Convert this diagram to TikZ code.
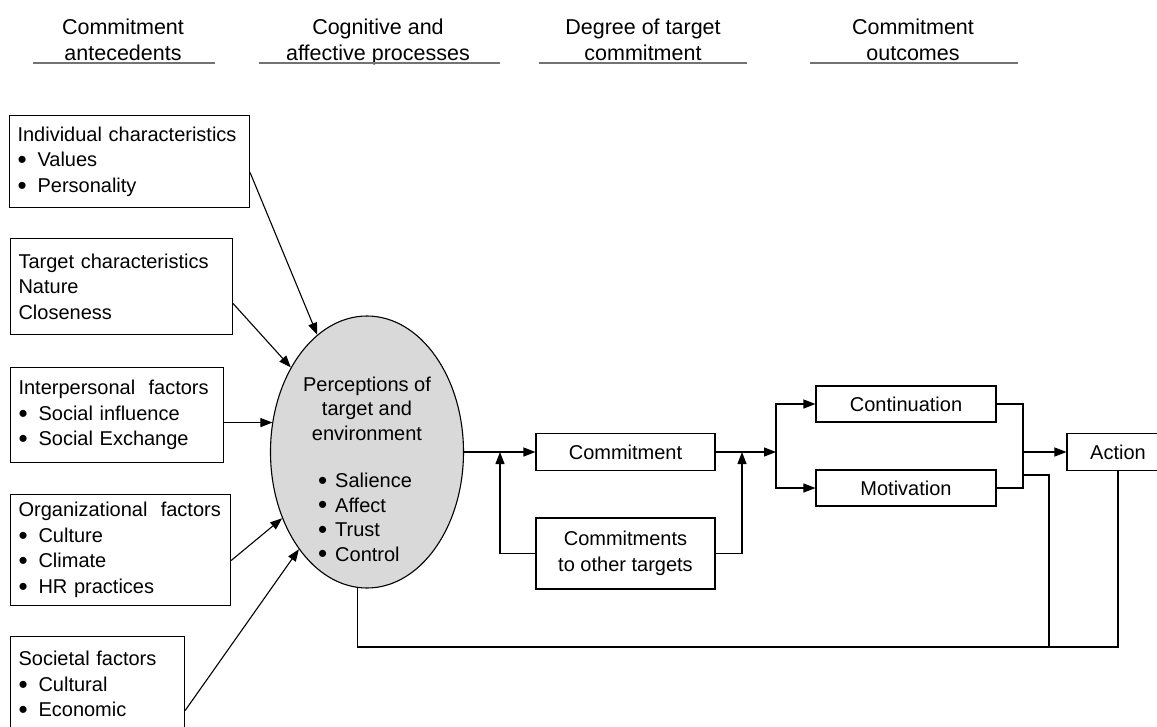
\documentclass[tikz,border=0pt]{standalone}
\usepackage{fontspec}
\setmainfont{Liberation Sans}
\usetikzlibrary{shapes.geometric,arrows.meta}
\newcommand\bodyfont{\fontsize{20pt}{25.5pt}\selectfont}
\newcommand\ellfont{\fontsize{20pt}{24.5pt}\selectfont}
\newcommand\hdrfont{\fontsize{21.5pt}{26pt}\selectfont}
\newcommand\bigbul{\raisebox{-0.09em}{\scalebox{1.3}{\textbullet}}}
\newcommand\itembul{\makebox[20pt][l]{\bigbul}}
\newcommand\ellbul{\makebox[17pt][l]{\bigbul}}
\tikzset{
  lbox/.style={draw, line width=1.1pt, rectangle, anchor=north west, inner xsep=8pt, inner ysep=0pt, align=left, font=\bodyfont},
  cbox/.style={draw, line width=1.1pt, rectangle, inner sep=0pt, align=center, font=\bodyfont},
  conn/.style={line width=1.1pt},
  arr/.style={line width=1.1pt, -{Triangle[length=12pt,width=9pt]}},
  hdr/.style={align=center, font=\hdrfont, inner sep=0pt, text depth=5pt},
  uline/.style={line width=1.6pt, draw=black!55},
  perception/.style={ellipse, draw, line width=1.1pt, fill=black!15, inner sep=0pt, minimum width=193pt, minimum height=272pt}
}
\begin{document}
\begin{tikzpicture}[x=1pt,y=-1pt]
\useasboundingbox (0,0) rectangle (1157,726);

% column headers
\node[hdr] (h1) at (123,42.5) {Commitment\\antecedents};
\node[hdr] (h2) at (378,42.5) {Cognitive and\\affective processes};
\node[hdr] (h3) at (643,42.5) {Degree of target\\commitment};
\node[hdr] (h4) at (913,42.5) {Commitment\\outcomes};
\draw[uline] (33,63) -- (215,63);
\draw[uline] (259,63) -- (500,63);
\draw[uline] (539,63) -- (747,63);
\draw[uline] (810,63) -- (1018,63);

% antecedent boxes
\node[lbox, text width=224pt, minimum height=92pt] (ind) at (9,115)
  {Individual characteristics\\\itembul Values\\\itembul Personality};
\node[lbox, text width=206pt, minimum height=96pt] (tgt) at (10,238)
  {Target characteristics\\Nature\\Closeness};
\node[lbox, text width=197pt, minimum height=95pt] (inter) at (10,367)
  {Interpersonal~ factors\\\itembul Social influence\\\itembul Social Exchange};
\node[lbox, text width=204pt, minimum height=111pt] (org) at (10,494)
  {Organizational~ factors\\\itembul Culture\\\itembul Climate\\\itembul HR practices};
\node[lbox, text width=158pt, minimum height=97pt] (soc) at (10,636)
  {Societal factors\\\itembul Cultural\\\itembul Economic};

% perception ellipse
\node[perception] (perc) at (367,452) {};
\node[align=center, font=\ellfont, inner sep=0pt] (perct) at (367,408.5)
  {Perceptions of\\target and\\environment};
\node[align=left, font=\ellfont, inner sep=0pt, anchor=west] (percb) at (318,518)
  {\ellbul Salience\\\ellbul Affect\\\ellbul Trust\\\ellbul Control};

% commitment boxes
\node[cbox, minimum width=179pt, minimum height=37pt] (com) at (625.5,452) {Commitment};
\node[cbox, minimum width=179pt, minimum height=71pt] (oth) at (625.5,553.5) {Commitments\\to other targets};
\node[cbox, minimum width=180pt, minimum height=36pt] (cont) at (906,404) {Continuation};
\node[cbox, minimum width=180pt, minimum height=36pt] (mot) at (906,488) {Motivation};
\node[cbox, minimum width=102pt, minimum height=37pt] (act) at (1118,452) {Action};

% junctions
\coordinate (j1) at (500,452);
\coordinate (j2) at (742,452);
\coordinate (sp) at (776,452);
\coordinate (j3) at (1023,452);
\coordinate (j4) at (1023,475);
\coordinate (fb1) at (1049,647);
\coordinate (fb2) at (1118,647);

% antecedents to perceptions
\draw[arr] ([yshift=-11pt]ind.east) -- (perc.113);
\draw[arr] ([yshift=-17pt]tgt.east) -- (perc.132);
\draw[arr] ([yshift=-7.5pt]inter.east) -- ([yshift=-7.5pt]inter.east -| perc.162);
\draw[arr] ([yshift=-10.5pt]org.east) -- (perc.218);
\draw[arr] ([yshift=-25.5pt]soc.east) -- (perc.235);

% main flow
\draw[arr] (perc.east) -- (com.west);
\draw[arr] (oth.west) -| (j1);
\draw[arr] (oth.east) -| (j2);
\draw[arr] (com.east) -- (sp);
\draw[arr] (sp) |- (cont.west);
\draw[arr] (sp) |- (mot.west);
\draw[conn] (cont.east) -| (j3) |- (mot.east);
\draw[arr] (j3) -- (act.west);

% feedback
\draw[conn] (j4) -| (fb1);
\draw[conn] (perc.266) |- (fb2) -- (act.south);
\end{tikzpicture}
\end{document}
